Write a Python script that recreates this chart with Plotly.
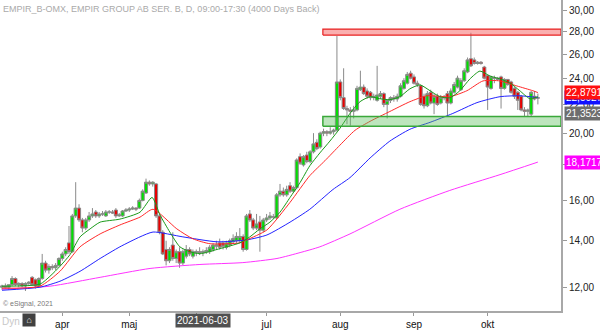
import numpy as np
import plotly.graph_objects as go

# ---------------- data ----------------
day_index = list(range(161))  # trading days, 2021-03-08 .. 2021-10-22

opens = [12.00,12.05,12.00,12.10,12.35,12.10,12.15,12.05,12.15,12.40,
         12.30,12.05,12.35,13.00,12.70,12.85,12.80,12.90,13.20,13.40,
         13.90,13.50,15.20,15.60,15.00,14.60,15.00,15.20,15.40,15.20,
         15.30,15.20,15.40,15.40,15.50,15.20,15.20,15.45,15.50,15.55,
         15.60,15.60,16.00,16.40,17.00,16.90,16.90,15.20,14.40,13.60,
         13.10,13.80,13.20,13.50,13.00,13.30,13.60,13.30,13.45,13.50,
         13.45,13.50,13.50,13.60,13.75,13.90,13.90,13.70,13.80,13.95,
         14.00,14.00,14.20,13.60,15.30,15.00,14.60,14.90,14.50,15.00,
         15.10,15.15,15.10,16.30,16.50,16.30,16.80,16.50,16.70,18.50,
         18.00,18.60,18.20,18.80,19.40,19.10,20.00,20.10,20.00,20.10,
         20.20,23.70,22.50,21.70,21.60,21.50,21.60,23.10,23.30,23.00,
         22.90,22.50,22.30,22.60,22.80,22.00,22.30,22.50,22.40,22.60,
         23.20,23.60,24.40,24.10,23.60,23.40,22.60,21.90,22.90,22.10,
         22.60,22.10,22.50,22.80,22.10,22.90,23.30,23.10,23.80,24.50,
         25.60,25.50,25.20,25.30,24.90,24.20,23.20,24.00,24.00,24.10,
         23.20,23.90,23.70,23.20,22.90,22.60,21.60,21.50,21.30,22.60,
         22.45]
highs = [12.10,12.15,12.10,12.45,12.40,12.20,12.20,12.20,12.25,12.45,
         12.35,12.40,13.40,13.10,12.95,12.95,13.00,13.25,13.50,13.70,
         14.70,15.30,17.00,15.80,15.10,15.10,15.40,15.60,15.50,15.40,
         15.45,15.50,15.50,15.50,15.60,15.35,15.50,15.60,15.65,15.70,
         15.65,16.10,16.60,17.20,17.10,17.05,16.95,15.30,14.50,14.00,
         13.70,14.40,13.60,13.70,13.60,13.80,13.70,13.60,13.60,13.70,
         13.60,13.70,13.80,13.90,14.00,14.10,14.00,14.00,14.10,14.30,
         14.40,14.60,14.30,15.30,15.50,15.10,15.30,15.20,15.10,15.30,
         15.40,15.30,16.40,16.90,16.70,16.80,17.00,16.80,18.40,18.70,
         18.60,18.80,18.90,20.00,19.60,20.10,20.30,20.20,20.40,20.30,
         27.60,23.90,24.80,21.90,21.80,21.90,23.40,24.60,23.50,23.20,
         23.00,22.80,25.00,23.00,22.90,22.40,22.60,22.70,22.80,23.60,
         24.00,24.50,24.60,24.30,23.80,23.50,22.80,23.00,23.10,22.80,
         22.80,22.70,22.70,23.00,23.20,23.70,24.20,24.00,24.80,25.70,
         27.90,25.70,25.40,25.40,25.00,24.30,24.20,24.20,24.10,24.20,
         24.00,23.90,23.80,23.30,23.00,22.70,21.80,21.70,23.00,23.00,
         22.80]
lows = [11.90,11.95,11.90,12.05,12.05,12.00,12.00,11.85,12.05,12.05,
        11.95,12.00,12.30,12.60,12.55,12.70,12.70,12.85,13.10,13.30,
        13.40,13.45,15.10,14.90,14.40,14.50,14.90,15.10,15.10,15.10,
        15.20,15.15,15.30,15.30,15.10,15.15,15.15,15.40,15.40,15.50,
        15.45,15.55,15.95,16.35,16.80,16.75,15.10,14.30,13.35,12.90,
        13.00,13.10,13.00,12.80,12.90,13.20,13.30,13.20,13.30,13.35,
        13.30,13.40,13.40,13.50,13.60,13.60,13.60,13.60,13.70,13.85,
        13.90,13.90,13.50,13.55,14.90,14.50,14.50,13.50,14.40,14.90,
        15.00,15.05,15.05,16.20,16.20,16.20,16.40,16.40,16.60,18.00,
        17.90,18.10,18.10,18.70,18.90,19.00,19.80,19.80,19.90,19.90,
        20.10,22.30,21.60,20.60,20.50,21.00,21.50,23.00,22.70,22.40,
        22.30,22.30,22.20,22.40,21.80,21.00,22.10,22.20,22.20,22.50,
        23.10,23.50,23.90,23.50,23.30,21.90,21.70,21.80,22.00,21.30,
        21.90,22.00,22.30,21.20,22.00,22.80,23.20,23.00,23.70,24.40,
        24.90,25.10,25.10,25.10,23.90,21.60,23.10,23.60,23.80,21.70,
        23.10,23.40,22.80,22.40,21.60,21.50,21.10,21.10,21.10,22.30,
        22.00]
closes = [12.05,12.00,12.10,12.35,12.10,12.15,12.05,12.15,12.20,12.10,
          12.05,12.35,13.00,12.70,12.85,12.80,12.90,13.20,13.40,13.60,
          13.50,15.20,15.60,15.00,14.60,15.00,15.20,15.30,15.20,15.30,
          15.30,15.40,15.40,15.35,15.20,15.25,15.45,15.50,15.55,15.60,
          15.55,16.00,16.50,17.00,16.90,17.00,15.20,14.40,13.40,13.10,
          13.60,13.20,13.50,13.00,13.50,13.60,13.40,13.50,13.50,13.45,
          13.50,13.55,13.70,13.80,13.80,13.70,13.75,13.90,14.00,14.10,
          14.20,14.20,13.60,15.20,15.00,14.60,14.80,14.50,15.00,15.10,
          15.20,15.15,16.30,16.50,16.30,16.60,16.50,16.70,18.30,18.10,
          18.50,18.20,18.80,19.30,19.00,20.00,20.10,20.00,20.10,20.20,
          23.70,22.50,21.70,21.60,21.50,21.60,23.20,23.30,22.80,22.60,
          22.50,22.60,22.70,22.80,22.00,22.30,22.50,22.40,22.60,23.40,
          23.80,24.30,24.00,23.60,23.50,22.00,21.90,22.80,22.10,22.60,
          22.00,22.50,22.50,22.10,23.00,23.50,24.00,23.80,24.60,25.50,
          25.00,25.20,25.30,25.20,24.00,23.30,24.10,24.00,23.90,23.20,
          23.90,23.50,22.90,22.60,22.30,21.60,21.50,21.60,22.90,22.40,
          22.50]

# moving averages (sampled along the curves)
ma_green_idx = [0,11.3,14.3,17.3,20.3,23.3,26.3,29.3,35.2,41.2,44.8,47.2,50.1,53.1,56.1,59.1,
                65.1,71.0,74.0,77.0,80.0,83.0,86.0,89.0,91.9,94.9,97.9,100.9,103.9,106.9,
                109.9,112.8,115.8,118.8,121.8,124.8,127.8,130.7,133.7,136.7,139.7,142.7,
                145.7,148.7,151.6,154.6,157.6,160]
ma_green_val = [12.04,12.12,12.44,12.86,13.37,14.18,14.56,14.89,15.04,15.39,16.16,15.24,14.41,13.72,13.50,13.41,
                13.64,13.90,14.18,14.56,14.89,15.39,16.16,16.98,17.95,18.73,19.48,20.32,21.35,22.20,
                22.57,22.42,22.35,22.57,23.17,23.47,23.02,22.57,22.49,23.02,23.94,24.57,
                24.17,23.94,23.63,23.02,22.42,22.57]
ma_red_idx = [0,11.3,17.3,23.3,29.3,35.2,41.2,45.1,52.2,57.0,62.1,71.0,73.1,79.1,86.0,91.9,
              96.4,100.9,105.4,109.9,115.8,121.8,126.9,133.7,138.8,143.6,148.7,153.7,158.5,160]
ma_red_val = [11.96,12.04,12.65,13.72,14.32,14.75,15.14,15.54,14.56,14.09,13.86,13.90,14.04,14.51,15.90,17.37,
              18.25,19.22,20.19,20.80,21.49,22.20,22.64,22.57,23.02,23.78,23.78,23.39,23.02,22.88]
ma_blue_idx = [0,11.3,17.3,23.3,29.3,35.2,41.2,45.1,54.0,64.2,73.1,79.1,86.0,91.9,98.8,103.9,
               109.9,115.8,121.8,127.8,134.6,141.8,148.7,154.6,160]
ma_blue_val = [11.88,12.00,12.24,12.65,13.20,13.72,14.18,14.41,14.18,13.95,14.04,14.27,14.89,15.54,16.59,17.26,
               18.42,19.48,20.26,20.73,21.35,22.13,22.57,22.64,22.50]
ma_mag_idx = [0,14.3,29.3,44.2,59.1,71.9,82.1,89.0,94.9,103.9,118.8,133.7,148.7,160]
ma_mag_val = [11.92,12.04,12.40,12.77,12.94,13.02,13.20,13.46,13.72,14.32,15.54,16.54,17.43,18.17]

month_tick_idx = [18, 38, 58, 79, 101, 123, 145]
month_tick_txt = ["apr", "maj", "", "jul", "aug", "sep", "okt"]
cursor_idx = 60
cursor_label = "2021-06-03"

y_ticks = [12, 14, 16, 18, 20, 22, 24, 26, 28, 30]
resist_lo, resist_hi = 27.69, 28.24
support_lo, support_hi = 20.46, 21.14
zone_start = 95.8

flag_values = [21.3523, 18.1717, 22.5027, 22.8791]
flag_colors = ["#6e6e6e", "#ff00ff", "#1010ff", "#ff1010"]

title_text = "EMPIR_B-OMX, EMPIR GROUP AB SER. B, D, 09:00-17:30 (4000 Days Back)"

# ---------------- figure ----------------
x_max = 166.9
fig = go.Figure()

fig.add_trace(go.Candlestick(
    x=day_index, open=opens, high=highs, low=lows, close=closes,
    whiskerwidth=0,
    increasing=dict(fillcolor="#00e000", line=dict(color="#8a8a8a", width=1)),
    decreasing=dict(fillcolor="#e80000", line=dict(color="#8a8a8a", width=1)),
    hoverinfo="skip", showlegend=False))

for idx, val, col in [(ma_mag_idx, ma_mag_val, "#ff33ff"),
                      (ma_blue_idx, ma_blue_val, "#2222ff"),
                      (ma_red_idx, ma_red_val, "#ff2a2a"),
                      (ma_green_idx, ma_green_val, "#1a9a1a")]:
    fig.add_trace(go.Scatter(x=idx, y=val, mode="lines",
                             line=dict(color=col, width=1, shape="spline", smoothing=0.6),
                             hoverinfo="skip", showlegend=False))

# zones as filled polygons
fig.add_trace(go.Scatter(x=[zone_start, x_max, x_max, zone_start, zone_start],
                         y=[resist_lo, resist_lo, resist_hi, resist_hi, resist_lo],
                         mode="lines", fill="toself", fillcolor="rgba(245,110,110,0.55)",
                         line=dict(color="#e82020", width=1.2), hoverinfo="skip", showlegend=False))
fig.add_trace(go.Scatter(x=[zone_start, x_max, x_max, zone_start, zone_start],
                         y=[support_lo, support_lo, support_hi, support_hi, support_lo],
                         mode="lines", fill="toself", fillcolor="rgba(90,190,90,0.40)",
                         line=dict(color="#3aa83a", width=1.5), hoverinfo="skip", showlegend=False))

ann = []
ann.append(dict(xref="paper", yref="paper", x=0.0, y=1.0, xanchor="left", yanchor="top",
                yshift=-2, xshift=1, text=title_text, showarrow=False,
                font=dict(size=9, color="#aaaaaa")))
ann.append(dict(xref="paper", yref="paper", x=0.0, y=0.0, xanchor="left", yanchor="bottom",
                xshift=1, yshift=1, text="© eSignal, 2021", showarrow=False,
                font=dict(size=7, color="#777777")))
for v, c in zip(flag_values, flag_colors):
    ann.append(dict(xref="paper", yref="y", x=1.0, y=np.log10(v), xanchor="left", yanchor="middle",
                    xshift=3, text=f"{v:.4f}".replace(".", ","), showarrow=False,
                    bgcolor=c, borderpad=1, font=dict(size=10, color="white")))
ann.append(dict(xref="x", yref="paper", x=cursor_idx, y=0, yanchor="top", xanchor="center",
                yshift=-2, text=cursor_label, showarrow=False, bgcolor="#505050",
                borderpad=1, font=dict(size=10, color="white")))
ann.append(dict(xref="paper", yref="paper", x=0.0, y=0, yanchor="top", xanchor="left",
                yshift=-3, text="Dyn", showarrow=False, font=dict(size=10, color="#c8c8c8")))
ann.append(dict(xref="paper", yref="paper", x=0.04, y=0, yanchor="top", xanchor="left",
                yshift=-2, text=" \u2302 ", showarrow=False, bgcolor="#404040",
                font=dict(size=9, color="white")))

fig.update_layout(
    width=600, height=330,
    margin=dict(l=0, r=39, t=0, b=15),
    paper_bgcolor="white", plot_bgcolor="white",
    showlegend=False, boxgap=0.08, boxgroupgap=0.0,
    font=dict(family="Liberation Sans, Arial, sans-serif", size=10, color="#222222"),
    annotations=ann,
    xaxis=dict(range=[-0.6, x_max], showgrid=False, zeroline=False,
               rangeslider=dict(visible=False),
               tickvals=month_tick_idx, ticktext=month_tick_txt,
               ticks="outside", ticklen=3, tickcolor="#999999",
               showline=True, linecolor="#a8a8a8", linewidth=2,
               tickfont=dict(size=10, color="#111111")),
    yaxis=dict(type="log", side="right",
               range=[np.log10(11.09), np.log10(31.1)],
               tickvals=y_ticks, ticktext=[f"{v:.2f}".replace(".", ",") for v in y_ticks],
               ticks="outside", ticklen=4, tickcolor="#999999",
               showline=True, linecolor="#a8a8a8", linewidth=2,
               showgrid=False, zeroline=False,
               tickfont=dict(size=10, color="#222222")),
)

fig.write_html("out.html")
